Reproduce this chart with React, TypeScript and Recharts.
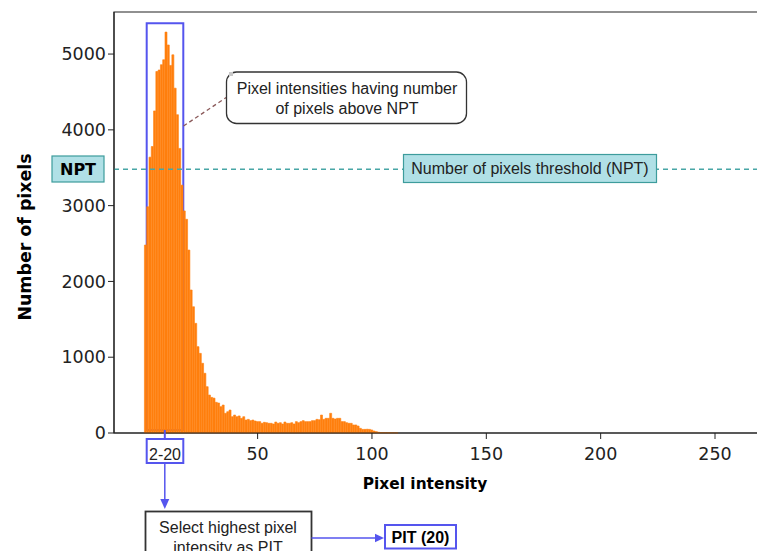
import { Bar, BarChart, ReferenceArea, ReferenceLine, XAxis, YAxis } from "recharts"

// histogram of pixel intensities, one bar per intensity starting at 1
const firstIntensity = 1
const pixelCounts = [
  2480, 2985, 3640, 3780, 4250, 4770, 4790, 4860, 4925, 5290,
  5120, 4850, 4990, 4550, 4200, 3755, 3270, 2930, 2820, 2414,
  1887, 1666, 1447, 1139, 1051, 920, 788, 611, 501, 470,
  460, 405, 396, 347, 369, 260, 281, 303, 215, 237,
  215, 225, 194, 215, 171, 180, 163, 171, 158, 150,
  150, 128, 141, 136, 128, 128, 119, 145, 128, 136,
  119, 145, 128, 128, 136, 119, 150, 136, 150, 163,
  150, 150, 150, 163, 163, 180, 175, 237, 180, 194,
  194, 260, 194, 185, 194, 194, 150, 150, 136, 128,
  128, 106, 106, 92, 62, 48, 48, 50, 48, 40,
  26, 18, 10, 6, 5, 5, 4, 4, 3, 3, 2,
]

// the 0 tick sits under the "2-20" box in the figure
const xTicks = [50, 100, 150, 200, 250]
const yTicks = [0, 1000, 2000, 3000, 4000, 5000]
const xDomain = [-12.8, 268.8]
const yDomain = [0, 5555]

const npt = 3480
const selectedRange = [1.5, 17.5]
const selectedCounts = [40, 5405]

const data = pixelCounts.map((count, i) => ({ intensity: firstIntensity + i, count }))

const ORANGE = "#ff7f0e"
const BLUE = "#5555ee"
const TEAL = "#48a6a6"
const BOX_FILL = "#b0e0e6"
const BOX_EDGE = "#3d9c9c"
const INK = "#222"
const arial = "'Liberation Sans', Arial, sans-serif"
const dejavu = "'DejaVu Sans', sans-serif"

export default function App() {
  return (
    <div style={{ position: "relative", width: 757, height: 543 }}>
      <BarChart
        width={757}
        height={543}
        data={data}
        margin={{ top: 4, right: 7, bottom: 88, left: 0 }}
        barCategoryGap={0}
        barGap={0}
      >
        <XAxis
          type="number"
          dataKey="intensity"
          domain={xDomain}
          ticks={xTicks}
          height={30}
          tickSize={6}
          tickMargin={9}
          stroke={INK}
          tick={{ fontSize: 17.5, fill: INK, fontFamily: dejavu }}
        />
        <YAxis
          type="number"
          domain={yDomain}
          ticks={yTicks}
          width={106}
          tickSize={6}
          tickMargin={2}
          stroke={INK}
          tick={{ fontSize: 17.5, fill: INK, fontFamily: dejavu }}
        />
        <Bar
          dataKey="count"
          fill={ORANGE}
          stroke={ORANGE}
          strokeWidth={0.6}
          isAnimationActive={false}
        />
        <ReferenceLine y={npt} stroke={TEAL} strokeDasharray="5 4" strokeWidth={1.4} />
        <ReferenceArea
          x1={xDomain[0]}
          x2={xDomain[1]}
          y1={yDomain[0]}
          y2={yDomain[1]}
          ifOverflow="visible"
          fill="none"
          fillOpacity={0}
          stroke={INK}
          strokeWidth={1.2}
        />
        <ReferenceArea
          x1={selectedRange[0]}
          x2={selectedRange[1]}
          y1={selectedCounts[0]}
          y2={selectedCounts[1]}
          ifOverflow="visible"
          fill="none"
          fillOpacity={0}
          stroke={BLUE}
          strokeWidth={2}
        />
      </BarChart>

      <svg
        width={757}
        height={543}
        style={{ position: "absolute", left: 0, top: 0, overflow: "visible", pointerEvents: "none" }}
      >
        <g transform="translate(-8,-8)">
          {/* axis titles */}
          <text
            x={25}
            y={237}
            transform="rotate(-90 25 237)"
            textAnchor="middle"
            dominantBaseline="central"
            fontFamily={dejavu}
            fontWeight="bold"
            fontSize={17.4}
            fill="#000"
          >
            Number of pixels
          </text>
          <text x={425} y={489} textAnchor="middle" fontFamily={dejavu} fontWeight="bold" fontSize={15.4} fill="#000">
            Pixel intensity
          </text>

          {/* NPT labels */}
          <rect x={52} y={156} width={52} height={26} fill={BOX_FILL} stroke={BOX_EDGE} strokeWidth={1.2} />
          <text x={78} y={174.5} textAnchor="middle" fontFamily={dejavu} fontWeight="bold" fontSize={16} fill="#000">
            NPT
          </text>
          <rect x={403.5} y={154.5} width={253} height={28} fill={BOX_FILL} stroke={BOX_EDGE} strokeWidth={1.2} />
          <text x={530} y={174} textAnchor="middle" fontFamily={arial} fontSize={16} fill={INK}>
            Number of pixels threshold (NPT)
          </text>

          {/* callout for intensities above NPT */}
          <line x1={183.5} y1={126} x2={227} y2={97} stroke="#8b5a5a" strokeWidth={1.3} strokeDasharray="4 3" />
          <rect x={226.5} y={72} width={240} height={51.5} rx={10} fill="#fff" stroke="#333" strokeWidth={1.3} />
          <rect x={229} y={72} width={4} height={4} fill="#c8c8c8" />
          <text x={347} y={94} textAnchor="middle" fontFamily={arial} fontSize={16} fill={INK}>
            Pixel intensities having number
          </text>
          <text x={347} y={113.5} textAnchor="middle" fontFamily={arial} fontSize={16} fill={INK}>
            of pixels above NPT
          </text>

          {/* range label and flow below the axis */}
          <line x1={164.8} y1={430} x2={164.8} y2={439} stroke={BLUE} strokeWidth={2} />
          <rect x={146.7} y={439} width={36.6} height={24} fill="#fff" stroke={BLUE} strokeWidth={2} />
          <text x={165} y={459.5} textAnchor="middle" fontFamily={arial} fontSize={16} fill={INK}>
            2-20
          </text>
          <line x1={164.8} y1={463} x2={164.8} y2={500} stroke={BLUE} strokeWidth={1.5} />
          <polygon points="160.3,499 169.3,499 164.8,509" fill={BLUE} />

          <rect x={145.5} y={511.5} width={166} height={60} fill="#fff" stroke="#333" strokeWidth={1.8} />
          <text x={228} y={533} textAnchor="middle" fontFamily={arial} fontSize={16} fill={INK}>
            Select highest pixel
          </text>
          <text x={228} y={552.5} textAnchor="middle" fontFamily={arial} fontSize={16} fill={INK}>
            intensity as PIT
          </text>

          <line x1={311.5} y1={538} x2={376} y2={538} stroke={BLUE} strokeWidth={1.5} />
          <polygon points="375,533.8 375,542.2 384,538" fill={BLUE} />
          <rect x={385} y={525} width={71} height={23.5} fill="#fff" stroke={BLUE} strokeWidth={2} />
          <text x={420.5} y={542.5} textAnchor="middle" fontFamily={arial} fontWeight="bold" fontSize={16} fill="#000">
            PIT (20)
          </text>
        </g>
      </svg>
    </div>
  )
}
